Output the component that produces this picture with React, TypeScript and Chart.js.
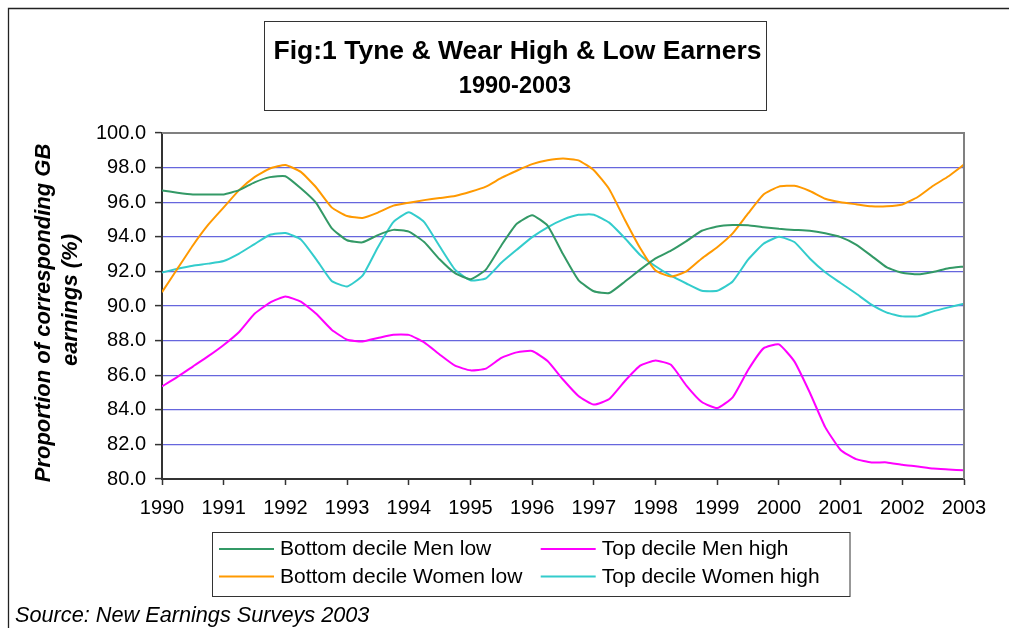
import React, { useEffect, useRef } from 'react';
import { Chart, registerables } from 'chart.js';

Chart.register(...registerables);

// x positions of the quarterly observations (years)
const quarters = [
  1990, 1990.25, 1990.5, 1990.75, 1991, 1991.25, 1991.5, 1991.75,
  1992, 1992.25, 1992.5, 1992.75, 1993, 1993.25, 1993.5, 1993.75,
  1994, 1994.25, 1994.5, 1994.75, 1995, 1995.25, 1995.5, 1995.75,
  1996, 1996.25, 1996.5, 1996.75, 1997, 1997.25, 1997.5, 1997.75,
  1998, 1998.25, 1998.5, 1998.75, 1999, 1999.25, 1999.5, 1999.75,
  2000, 2000.25, 2000.5, 2000.75, 2001, 2001.25, 2001.5, 2001.75,
  2002, 2002.25, 2002.5, 2002.75, 2003,
];

const yearTicks = [1990, 1991, 1992, 1993, 1994, 1995, 1996, 1997, 1998, 1999, 2000, 2001, 2002, 2003];

const bottomMenLow = [
  96.68, 96.55, 96.45, 96.45, 96.45, 96.7, 97.15, 97.45,
  97.5, 96.8, 95.95, 94.5, 93.8, 93.68, 94.1, 94.4,
  94.3, 93.7, 92.7, 91.9, 91.55, 92.1, 93.5, 94.75,
  95.25, 94.65, 93.0, 91.5, 90.85, 90.75, 91.4, 92.1,
  92.75, 93.2, 93.75, 94.35, 94.6, 94.68, 94.67, 94.55,
  94.46, 94.4, 94.35, 94.2, 93.98, 93.55, 92.9, 92.23,
  91.92, 91.83, 91.97, 92.18, 92.29,
];

const topMenHigh = [
  85.35, 85.9, 86.5, 87.1, 87.75, 88.5, 89.55, 90.2,
  90.55, 90.25, 89.55, 88.63, 88.05, 87.95, 88.15, 88.34,
  88.33, 87.9, 87.2, 86.55, 86.28, 86.38, 87.0, 87.32,
  87.4, 86.82, 85.75, 84.8, 84.3, 84.62, 85.65, 86.55,
  86.85, 86.6, 85.4, 84.45, 84.1, 84.72, 86.3, 87.55,
  87.78, 86.8, 85.0, 83.0, 81.68, 81.15, 80.96, 80.96,
  80.82, 80.72, 80.6, 80.55, 80.5,
];

const bottomWomenLow = [
  90.8, 92.15, 93.5, 94.7, 95.7, 96.7, 97.45, 97.95,
  98.15, 97.75, 96.85, 95.7, 95.2, 95.09, 95.4, 95.8,
  95.97, 96.12, 96.24, 96.36, 96.6, 96.9, 97.4, 97.82,
  98.2, 98.42, 98.52, 98.42, 97.85, 96.75, 95.0, 93.35,
  92.05, 91.7, 92.0, 92.75, 93.4, 94.2, 95.35, 96.45,
  96.9, 96.95, 96.65, 96.2, 96.0, 95.88, 95.76, 95.76,
  95.87, 96.3, 96.95, 97.5, 98.17,
];

const topWomenHigh = [
  91.94, 92.15, 92.33, 92.45, 92.6, 93.03, 93.58, 94.12,
  94.22, 93.85, 92.7, 91.45, 91.13, 91.75, 93.4, 94.85,
  95.42, 94.85, 93.45, 92.1, 91.48, 91.6, 92.5, 93.25,
  93.98, 94.55, 94.99, 95.27, 95.28, 94.82, 93.93, 92.95,
  92.3, 91.75, 91.3, 90.88, 90.88, 91.42, 92.68, 93.6,
  94.0, 93.7, 92.75, 91.95, 91.33, 90.72, 90.08, 89.62,
  89.4, 89.4, 89.69, 89.92, 90.13,
];

const seriesLabels = [
  'Bottom decile Men low',
  'Top decile Men high',
  'Bottom decile Women low',
  'Top decile Women high',
];
const seriesColors = ['#339966', '#FF00FF', '#FF9900', '#33CCCC'];
const seriesValues = [bottomMenLow, topMenHigh, bottomWomenLow, topWomenHigh];

const titleLine1 = 'Fig:1 Tyne & Wear High & Low Earners';
const titleLine2 = '1990-2003';
const yTitle1 = 'Proportion of corresponding GB';
const yTitle2 = 'earnings (%)';
const sourceText = 'Source: New Earnings Surveys 2003';

const FONT = '"Liberation Sans", Arial, sans-serif';

const decorPlugin = {
  id: 'decor',
  afterDraw(chart: any) {
    const ctx = chart.ctx as CanvasRenderingContext2D;
    const area = chart.chartArea;
    ctx.save();

    // plot area top/right border (gray)
    ctx.strokeStyle = '#808080';
    ctx.lineWidth = 2;
    ctx.beginPath();
    ctx.moveTo(area.left, area.top);
    ctx.lineTo(area.right, area.top);
    ctx.lineTo(area.right, area.bottom);
    ctx.stroke();

    // outer frame (top and left only)
    ctx.strokeStyle = '#222';
    ctx.lineWidth = 1.3;
    ctx.beginPath();
    ctx.moveTo(8.5, 628);
    ctx.lineTo(8.5, 8.5);
    ctx.lineTo(1009, 8.5);
    ctx.stroke();

    // title box
    ctx.strokeStyle = '#333';
    ctx.lineWidth = 1;
    ctx.strokeRect(264.5, 21.5, 502, 89);
    ctx.fillStyle = '#000';
    ctx.textAlign = 'center';
    ctx.textBaseline = 'alphabetic';
    ctx.font = `bold 26.5px ${FONT}`;
    ctx.fillText(titleLine1, 517.5, 59);
    ctx.font = `bold 23.5px ${FONT}`;
    ctx.fillText(titleLine2, 515, 93);

    // y-axis title
    ctx.font = `italic bold 22px ${FONT}`;
    ctx.textBaseline = 'middle';
    ctx.save();
    ctx.translate(44, 313);
    ctx.rotate(-Math.PI / 2);
    ctx.fillText(yTitle1, 0, 0);
    ctx.restore();
    ctx.save();
    ctx.translate(71, 300);
    ctx.rotate(-Math.PI / 2);
    ctx.fillText(yTitle2, 0, 0);
    ctx.restore();

    // legend
    ctx.strokeStyle = '#333';
    ctx.lineWidth = 1;
    ctx.strokeRect(212.5, 532.5, 637.5, 64);
    ctx.textAlign = 'left';
    ctx.textBaseline = 'alphabetic';
    ctx.font = `21px ${FONT}`;
    chart.data.datasets.forEach((ds: any, i: number) => {
      const col = i % 2;
      const row = Math.floor(i / 2);
      const x1 = 219 + col * 321.7;
      const ly = 549 + row * 27.6;
      ctx.strokeStyle = ds.borderColor;
      ctx.lineWidth = 2;
      ctx.beginPath();
      ctx.moveTo(x1, ly);
      ctx.lineTo(x1 + 55, ly);
      ctx.stroke();
      ctx.fillStyle = '#000';
      ctx.fillText(ds.label, x1 + 61, 555 + row * 27.7);
    });

    // source
    ctx.font = `italic 21.7px ${FONT}`;
    ctx.fillStyle = '#000';
    ctx.fillText(sourceText, 15, 621.5);

    ctx.restore();
  },
};

export default function App() {
  const ref = useRef<HTMLCanvasElement>(null);

  useEffect(() => {
    const canvas = ref.current;
    if (!canvas) return;
    const chart = new Chart(canvas, {
      type: 'line',
      data: {
        datasets: seriesLabels.map((label, i) => ({
          label,
          data: quarters.map((q, j) => ({ x: q, y: seriesValues[i][j] })),
          borderColor: seriesColors[i],
          backgroundColor: seriesColors[i],
          borderWidth: 2,
          pointRadius: 0,
          tension: 0.15,
          fill: false,
        })),
      },
      options: {
        responsive: false,
        animation: false,
        devicePixelRatio: 1,
        layout: { padding: { left: 0, top: 133, right: 45, bottom: 0 } },
        plugins: {
          legend: { display: false },
          title: { display: false },
          tooltip: { enabled: false },
        },
        scales: {
          x: {
            type: 'linear',
            min: 1990,
            max: 2003,
            afterFit: (s: any) => {
              s.height = 149;
            },
            afterBuildTicks: (axis: any) => {
              axis.ticks = yearTicks.map((v) => ({ value: v }));
            },
            border: { display: true, color: '#333', width: 2 },
            grid: {
              drawOnChartArea: false,
              drawTicks: true,
              tickLength: 6,
              tickColor: '#333',
              tickWidth: 1.5,
            },
            ticks: {
              autoSkip: false,
              maxRotation: 0,
              padding: 11,
              color: '#000',
              font: { family: FONT, size: 20 },
              callback: (v: any) => String(v),
            },
          },
          y: {
            type: 'linear',
            min: 80,
            max: 100,
            afterFit: (s: any) => {
              s.width = 162;
            },
            border: { display: true, color: '#333', width: 2 },
            grid: {
              color: (c: any) =>
                c.tick && (c.tick.value === 100 || c.tick.value === 80) ? 'rgba(0,0,0,0)' : '#6666DD',
              lineWidth: 1.2,
              drawTicks: true,
              tickLength: 7,
              tickColor: '#333',
              tickWidth: 1.5,
            },
            ticks: {
              stepSize: 2,
              padding: 9,
              color: '#000',
              font: { family: FONT, size: 20 },
              callback: (v: any) => Number(v).toFixed(1),
            },
          },
        },
      },
      plugins: [decorPlugin],
    });
    return () => chart.destroy();
  }, []);

  return (
    <div style={{ position: 'absolute', left: 0, top: 0, width: 1009, height: 628, background: '#fff' }}>
      <canvas ref={ref} width={1009} height={628} style={{ display: 'block' }} />
    </div>
  );
}
